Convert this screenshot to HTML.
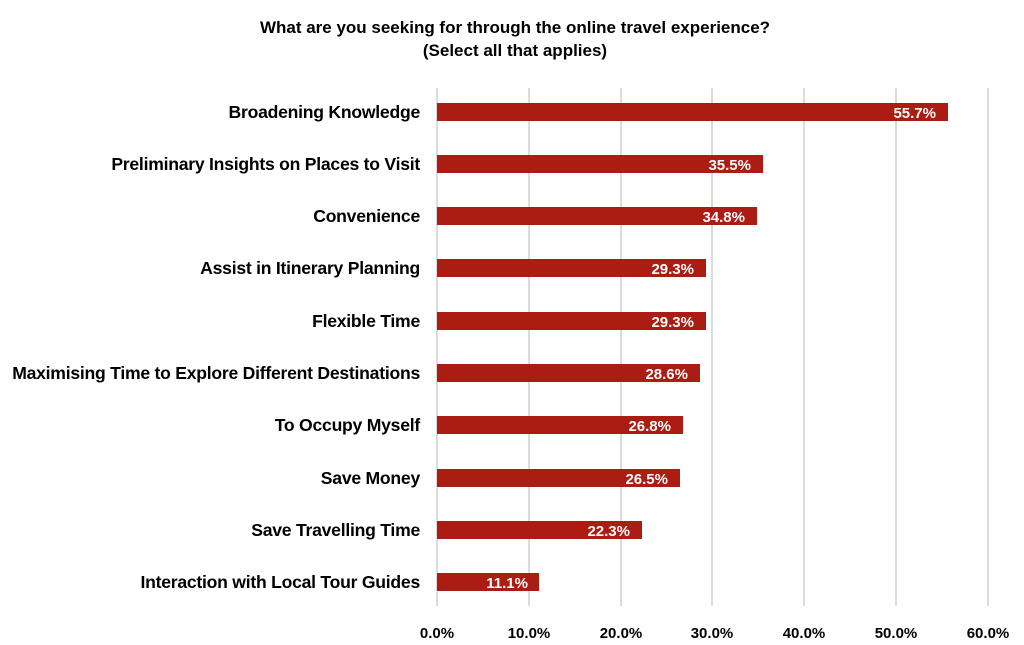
<!DOCTYPE html>
<html><head><meta charset="utf-8"><style>
html,body{margin:0;padding:0;background:#fff;}
svg{display:block;font-family:"Liberation Sans",sans-serif;font-weight:bold;}
</style></head><body>
<svg width="1024" height="645" viewBox="0 0 1024 645">
<text x="515" y="33" font-size="17" text-anchor="middle" fill="#000">What are you seeking for through the online travel experience?</text>
<text x="515" y="56" font-size="17" text-anchor="middle" fill="#000">(Select all that applies)</text>
<g stroke="#d0d0d0" stroke-width="1.5">
<line x1="437" y1="88" x2="437" y2="606"/>
<line x1="529" y1="88" x2="529" y2="606"/>
<line x1="621" y1="88" x2="621" y2="606"/>
<line x1="712" y1="88" x2="712" y2="606"/>
<line x1="804" y1="88" x2="804" y2="606"/>
<line x1="896" y1="88" x2="896" y2="606"/>
<line x1="988" y1="88" x2="988" y2="606"/>
</g>
<g font-size="15" text-anchor="middle" fill="#000">
<text x="437" y="638">0.0%</text><text x="529" y="638">10.0%</text><text x="621" y="638">20.0%</text><text x="712" y="638">30.0%</text><text x="804" y="638">40.0%</text><text x="896" y="638">50.0%</text><text x="988" y="638">60.0%</text>
</g>
<g fill="#ab1c12">
<rect x="437" y="103" width="511" height="18"/>
<rect x="437" y="155" width="326" height="18"/>
<rect x="437" y="207" width="320" height="18"/>
<rect x="437" y="259" width="269" height="18"/>
<rect x="437" y="312" width="269" height="18"/>
<rect x="437" y="364" width="263" height="18"/>
<rect x="437" y="416" width="246" height="18"/>
<rect x="437" y="469" width="243" height="18"/>
<rect x="437" y="521" width="205" height="18"/>
<rect x="437" y="573" width="102" height="18"/>
</g>
<g font-size="15" text-anchor="end" fill="#fff">
<text x="936" y="118">55.7%</text>
<text x="751" y="170">35.5%</text>
<text x="745" y="222">34.8%</text>
<text x="694" y="274">29.3%</text>
<text x="694" y="327">29.3%</text>
<text x="688" y="379">28.6%</text>
<text x="671" y="431">26.8%</text>
<text x="668" y="484">26.5%</text>
<text x="630" y="536">22.3%</text>
<text x="528" y="588">11.1%</text>
</g>
<g font-size="17.6" text-anchor="end" fill="#000" style="letter-spacing:-0.25px">
<text x="420" y="118">Broadening Knowledge</text>
<text x="420" y="170">Preliminary Insights on Places to Visit</text>
<text x="420" y="222">Convenience</text>
<text x="420" y="274">Assist in Itinerary Planning</text>
<text x="420" y="327">Flexible Time</text>
<text x="420" y="379">Maximising Time to Explore Different Destinations</text>
<text x="420" y="431">To Occupy Myself</text>
<text x="420" y="484">Save Money</text>
<text x="420" y="536">Save Travelling Time</text>
<text x="420" y="588">Interaction with Local Tour Guides</text>
</g>
</svg>
</body></html>
